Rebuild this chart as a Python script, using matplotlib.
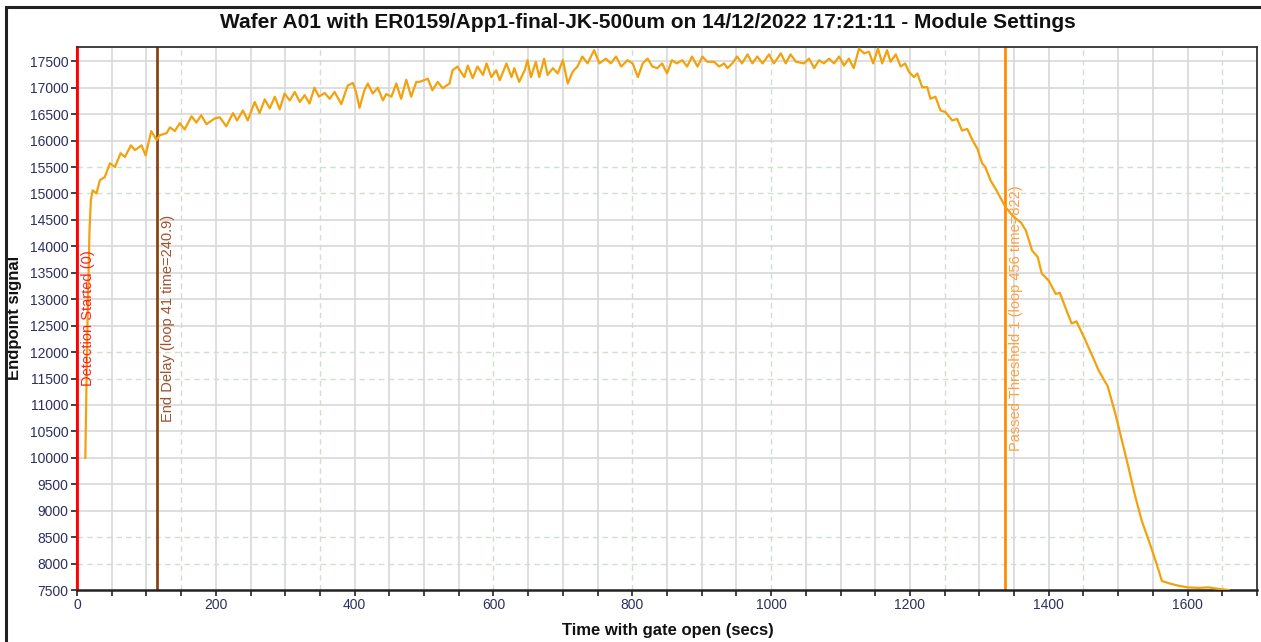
import matplotlib
matplotlib.use("Agg")
import matplotlib.pyplot as plt
from matplotlib.patches import Rectangle
from matplotlib.ticker import MultipleLocator, FuncFormatter
import matplotlib.transforms as mtransforms

plt.rcParams['font.family'] = ['Liberation Sans', 'DejaVu Sans']

# ---- data ----
time_s = [12, 15, 18, 20, 22.5, 28, 33, 40, 47.5, 54.7, 62.8, 69, 77.7, 83.5, 93, 98.8,
          107, 114.7, 119, 129, 134, 141, 148, 155, 165, 172, 179, 186.5, 198.6, 205.8,
          215, 224.8, 230.6, 239, 246, 256, 263, 270.5, 277.7, 285, 292, 299, 306.5,
          313.7, 321, 328, 335, 342, 348.6, 356.8, 364, 371, 380.8, 390, 397.5, 402,
          407, 414, 419, 426, 433.5, 440.7, 445.5, 453, 460, 467, 474.4, 481.5, 488.8,
          493.5, 505.5, 512, 519.6, 527, 536.7, 541, 548, 558, 563, 570, 577, 585, 590,
          597, 604, 609, 618.7, 626, 630, 637, 645, 649, 654, 661, 666, 673, 678, 685.6,
          692.6, 700, 707, 714, 721, 728, 735.6, 745, 752.5, 762, 769, 776.5, 784, 793,
          800.5, 808, 815, 822, 829, 836, 843, 850, 857, 864, 872, 879, 886, 894, 901,
          908, 918, 925, 932.4, 937, 944, 951, 958, 966, 973, 980, 987.6, 997, 1004,
          1014, 1021, 1028, 1036, 1047.5, 1054.7, 1062, 1069, 1076, 1083.5, 1090.6, 1098,
          1105, 1112, 1119, 1126.6, 1134, 1141, 1147, 1154, 1160, 1167, 1172, 1179.6,
          1186.7, 1193, 1198.6, 1205.8, 1210.6, 1217.7, 1225, 1229.5, 1236.7, 1244, 1251,
          1261, 1268, 1275, 1282.6, 1290, 1297, 1304, 1308.6, 1316, 1325, 1338, 1350,
          1360, 1367, 1376, 1384, 1390, 1400, 1410, 1416, 1424, 1433, 1440, 1453, 1462,
          1472, 1485, 1496, 1505, 1515, 1524, 1534, 1545, 1554, 1563, 1575, 1587, 1600,
          1616, 1630, 1645, 1659]
signal = [10000, 12500, 14300, 14870, 15060, 15000, 15250, 15310, 15570, 15500, 15760,
          15690, 15910, 15820, 15910, 15720, 16180, 16010, 16100, 16140, 16250, 16180,
          16330, 16210, 16460, 16340, 16480, 16310, 16420, 16440, 16270, 16520, 16380,
          16570, 16380, 16730, 16520, 16780, 16610, 16830, 16590, 16890, 16760, 16920,
          16730, 16860, 16700, 17000, 16830, 16900, 16790, 16920, 16690, 17040, 17090,
          16920, 16620, 16950, 17080, 16890, 17000, 16760, 16880, 16830, 17080, 16790,
          17150, 16830, 17110, 17110, 17170, 16950, 17110, 16990, 17080, 17330, 17400,
          17200, 17420, 17180, 17400, 17240, 17460, 17200, 17330, 17140, 17460, 17200,
          17370, 17110, 17330, 17520, 17200, 17490, 17200, 17550, 17240, 17370, 17270,
          17520, 17080, 17300, 17400, 17590, 17460, 17710, 17460, 17550, 17460, 17590,
          17400, 17520, 17460, 17200, 17460, 17550, 17400, 17370, 17460, 17270, 17520,
          17460, 17520, 17400, 17590, 17400, 17590, 17490, 17490, 17400, 17460, 17370,
          17460, 17590, 17460, 17630, 17460, 17590, 17460, 17630, 17460, 17650, 17460,
          17630, 17490, 17460, 17550, 17370, 17520, 17460, 17550, 17460, 17590, 17420,
          17550, 17370, 17740, 17650, 17680, 17460, 17740, 17460, 17710, 17490, 17630,
          17400, 17460, 17300, 17200, 17270, 17010, 17010, 16790, 16830, 16570, 16540,
          16380, 16410, 16190, 16220, 16010, 15850, 15570, 15500, 15250, 15050, 14735,
          14550, 14450, 14300, 13920, 13800, 13485, 13350, 13100, 13120, 12840, 12540,
          12580, 12215, 11950, 11650, 11350, 10830, 10350, 9810, 9300, 8807, 8400, 8050,
          7670, 7620, 7580, 7550, 7540, 7550, 7520, 7500]

event_times = [0, 115, 1337]
event_labels = ["Detection Started (0)",
                "End Delay (loop 41 time=240.9)",
                "Passed Threshold 1 (loop 456 time=822)"]

title = "Wafer A01 with ER0159/App1-final-JK-500um on 14/12/2022 17:21:11 - Module Settings"
x_label = "Time with gate open (secs)"
y_label = "Endpoint signal"

# ---- styling ----
event_line_colors = ["#ff0000", "#8b4513", "#ff8c00"]
event_text_colors = ["#ff2020", "#a0522d", "#ffa040"]
dashed_x = [150, 350, 600, 800, 1000, 1250, 1450, 1650]
dashed_y = [8000, 8500, 11500, 12000, 15000, 15500]

W, H = 1261, 642
fig = plt.figure(figsize=(W / 100, H / 100), dpi=100)
ax = fig.add_axes([77 / W, 1 - 590 / H, (1257 - 77) / W, (590 - 47) / H])

ax.set_xlim(0, 1700)
ax.set_ylim(7500, 17770)

# grid
for gx in range(50, 1700, 50):
    if gx in dashed_x:
        ax.axvline(gx, color="#cfe0cf", lw=1.0, ls=(0, (4, 3)), zorder=0)
    else:
        ax.axvline(gx, color="#d8d8d8", lw=1.2, zorder=0)
for gy in range(8000, 17800, 500):
    if gy in dashed_y:
        ax.axhline(gy, color="#cfe0cf", lw=1.0, ls=(0, (4, 3)), zorder=0)
    else:
        ax.axhline(gy, color="#d8d8d8", lw=1.2, zorder=0)

# event lines
blend = mtransforms.blended_transform_factory(ax.transData, ax.transAxes)
for t, lab, lc, tc in zip(event_times, event_labels, event_line_colors, event_text_colors):
    ax.axvline(t, color=lc, lw=2.0, zorder=2)
    ax.annotate(lab, xy=(t, 0.5), xycoords=blend, xytext=(8, 0),
                textcoords="offset points", rotation=90, ha="center", va="center",
                color=tc, fontsize=10.5, zorder=4)

# signal
ax.plot(time_s, signal, color="#f2a20c", lw=1.6, zorder=3, solid_joinstyle="round")

# ticks
ax.xaxis.set_major_locator(MultipleLocator(50))
ax.xaxis.set_major_formatter(FuncFormatter(lambda v, p: f"{int(v)}" if int(v) % 200 == 0 else ""))
ax.yaxis.set_major_locator(MultipleLocator(500))
ax.yaxis.set_major_formatter(FuncFormatter(lambda v, p: f"{int(v)}"))
ax.tick_params(axis="both", direction="out", length=4, width=1.2, color="#222222",
               labelsize=10, labelcolor="#2e2e5e", pad=2)

for side in ["top", "right"]:
    ax.spines[side].set_color("#333333")
    ax.spines[side].set_linewidth(1.3)
ax.spines["bottom"].set_color("#222222")
ax.spines["bottom"].set_linewidth(1.8)
ax.spines["left"].set_color("#ff0000")
ax.spines["left"].set_linewidth(1.5)

# texts
fig.text(648 / W, 1 - 22 / H, title, ha="center", va="center",
         fontsize=15, fontweight="bold", color="#111111")
fig.text(668 / W, 1 - 630 / H, x_label, ha="center", va="center",
         fontsize=12, fontweight="bold", color="#111111")
fig.text(15 / W, 1 - 318 / H, y_label, ha="center", va="center", rotation=90,
         fontsize=12, fontweight="bold", color="#111111")

# outer frame
fig.patches.append(Rectangle((6 / W, -0.05), 1.1, 1 - 7 / H + 0.05,
                             transform=fig.transFigure, fill=False,
                             edgecolor="#222222", lw=2.2, zorder=10))

fig.savefig("out.png", dpi=100)
